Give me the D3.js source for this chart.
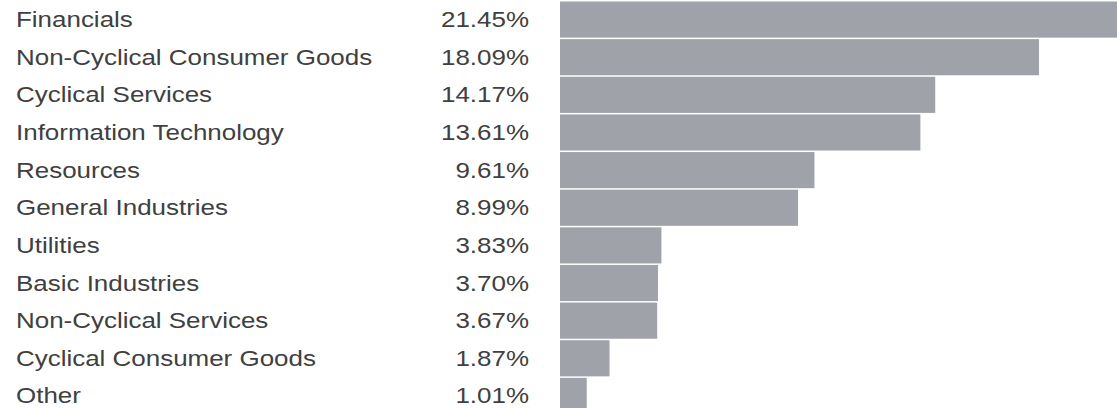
<!DOCTYPE html>
<html>
<head>
<meta charset="utf-8">
<script src="https://cdn.jsdelivr.net/npm/d3@7/dist/d3.min.js"></script>
<style>
  html, body { margin: 0; padding: 0; background: #fff; overflow: hidden; }
  svg { display: block; }
  text { font-family: "Liberation Sans", Arial, Helvetica, sans-serif; fill: #404040; }
</style>
</head>
<body>
<svg id="chart" width="1117" height="408"></svg>
<script>
// Sector weights, in percent
const sectors = [
  "Financials",
  "Non-Cyclical Consumer Goods",
  "Cyclical Services",
  "Information Technology",
  "Resources",
  "General Industries",
  "Utilities",
  "Basic Industries",
  "Non-Cyclical Services",
  "Cyclical Consumer Goods",
  "Other"
];
const weights = [21.45, 18.09, 14.17, 13.61, 9.61, 8.99, 3.83, 3.70, 3.67, 1.87, 1.01];
const weightLabels = ["21.45%", "18.09%", "14.17%", "13.61%", "9.61%", "8.99%", "3.83%", "3.70%", "3.67%", "1.87%", "1.01%"];

const rows = sectors.map((s, i) => ({ sector: s, weight: weights[i], label: weightLabels[i] }));

const svg = d3.select("#chart");
const rowStep = 37.5;
const firstRowTop = 1.5;
const barLeft = 560;
const pxPerUnit = 26.48;
const textStretch = 1.18;

const y = d3.scaleBand()
  .domain(sectors)
  .range([firstRowTop, firstRowTop + rowStep * sectors.length])
  .paddingInner(0.04)
  .paddingOuter(0);

const x = d3.scaleLinear()
  .domain([0, d3.max(weights)])
  .range([barLeft, barLeft + d3.max(weights) * pxPerUnit]);

// Bars
svg.append("g")
  .selectAll("rect")
  .data(rows)
  .join("rect")
  .attr("x", x(0))
  .attr("y", d => y(d.sector))
  .attr("width", d => x(d.weight) - x(0))
  .attr("height", y.bandwidth())
  .attr("fill", "#9fa2a9");

// Sector names
svg.append("g")
  .selectAll("text")
  .data(rows)
  .join("text")
  .attr("transform", d => `translate(16,${y(d.sector) + y.bandwidth() / 2 + 7.5}) scale(${textStretch},1)`)
  .attr("font-size", 22)
  .text(d => d.sector);

// Weight values
svg.append("g")
  .selectAll("text")
  .data(rows)
  .join("text")
  .attr("transform", d => `translate(529,${y(d.sector) + y.bandwidth() / 2 + 7.5}) scale(${textStretch},1)`)
  .attr("text-anchor", "end")
  .attr("font-size", 22)
  .text(d => d.label);
</script>
</body>
</html>
